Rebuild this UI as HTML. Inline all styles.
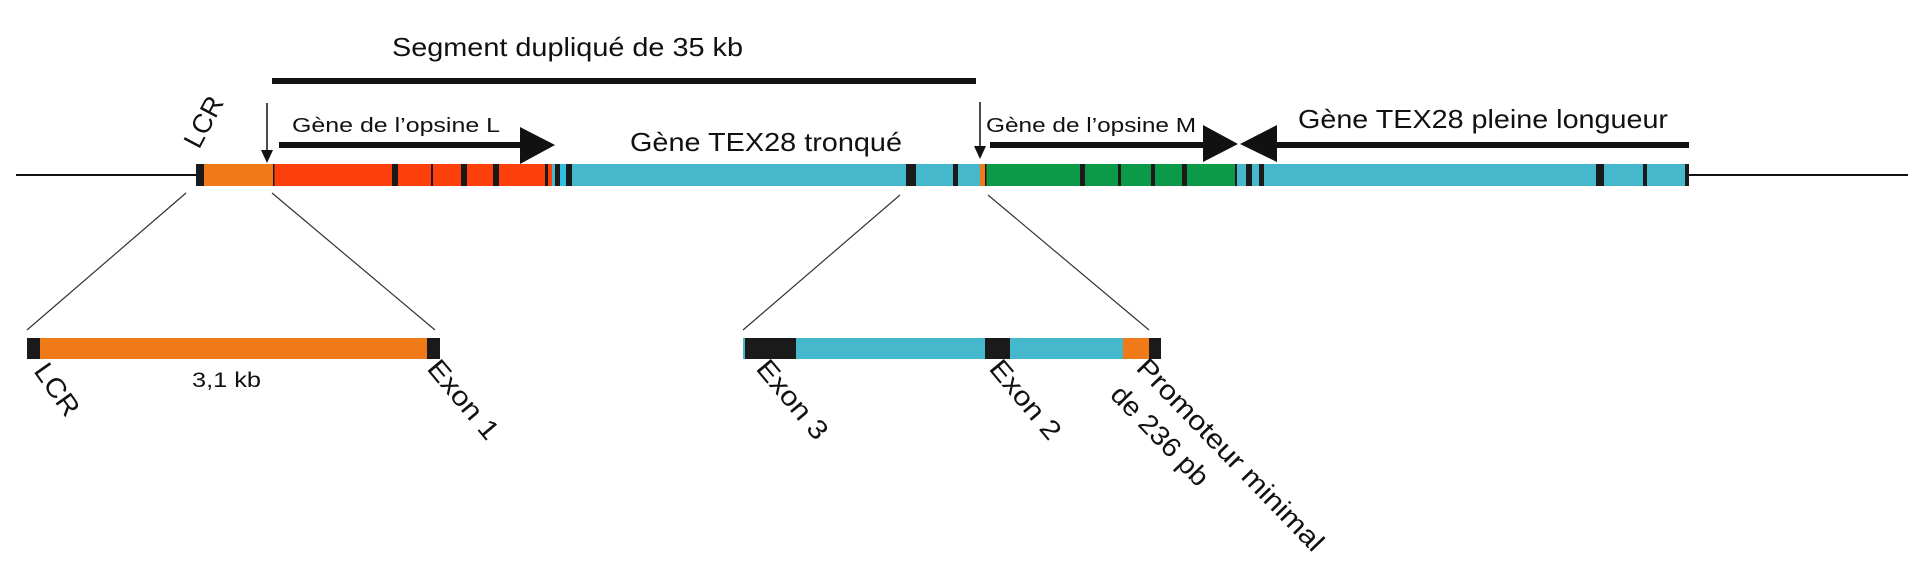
<!DOCTYPE html>
<html><head><meta charset="utf-8"><style>html,body{margin:0;padding:0;background:#fff}svg{display:block}</style></head>
<body>
<svg width="1916" height="578" viewBox="0 0 1916 578" xmlns="http://www.w3.org/2000/svg" font-family="Liberation Sans, Arial, sans-serif" fill="#111">
<!-- top title -->
<text x="392" y="56" font-size="26" textLength="351" lengthAdjust="spacingAndGlyphs">Segment dupliqué de 35 kb</text>
<rect x="272" y="78" width="704" height="6" fill="#111"/>
<!-- main line -->
<line x1="16" y1="175" x2="196" y2="175" stroke="#111" stroke-width="2"/>
<line x1="1689" y1="175" x2="1908" y2="175" stroke="#111" stroke-width="2"/>
<!-- main bar -->
<rect x="196" y="164" width="8" height="22" fill="#1a1a1a"/>
<rect x="204" y="164" width="69" height="22" fill="#f07a17"/>
<rect x="273" y="164" width="279" height="22" fill="#fd3f0c"/>
<rect x="273" y="164" width="1.5" height="22" fill="#1a1a1a"/>
<rect x="392" y="164" width="6" height="22" fill="#1a1a1a"/>
<rect x="431" y="164" width="2" height="22" fill="#1a1a1a"/>
<rect x="461" y="164" width="6" height="22" fill="#1a1a1a"/>
<rect x="493" y="164" width="6" height="22" fill="#1a1a1a"/>
<rect x="545" y="164" width="3" height="22" fill="#1a1a1a"/>
<rect x="552" y="164" width="3" height="22" fill="#45b8cc"/>
<rect x="555" y="164" width="5" height="22" fill="#1a1a1a"/>
<rect x="560" y="164" width="6" height="22" fill="#2fc0e0"/>
<rect x="566" y="164" width="6" height="22" fill="#1a1a1a"/>
<rect x="572" y="164" width="408" height="22" fill="#45b8cc"/>
<rect x="906" y="164" width="10" height="22" fill="#1a1a1a"/>
<rect x="953" y="164" width="5" height="22" fill="#1a1a1a"/>
<rect x="980" y="164" width="5" height="22" fill="#f07a17"/>
<rect x="985" y="164" width="251" height="22" fill="#0c9a48"/>
<rect x="985" y="164" width="1.5" height="22" fill="#1a1a1a"/>
<rect x="1080" y="164" width="5" height="22" fill="#1a1a1a"/>
<rect x="1118" y="164" width="3" height="22" fill="#1a1a1a"/>
<rect x="1151" y="164" width="4" height="22" fill="#1a1a1a"/>
<rect x="1182" y="164" width="5" height="22" fill="#1a1a1a"/>
<rect x="1235" y="164" width="2" height="22" fill="#1a1a1a"/>
<rect x="1237" y="164" width="9" height="22" fill="#45b8cc"/>
<rect x="1246" y="164" width="6" height="22" fill="#1a1a1a"/>
<rect x="1252" y="164" width="7" height="22" fill="#45b8cc"/>
<rect x="1259" y="164" width="5" height="22" fill="#1a1a1a"/>
<rect x="1264" y="164" width="422" height="22" fill="#45b8cc"/>
<rect x="1596" y="164" width="8" height="22" fill="#1a1a1a"/>
<rect x="1643" y="164" width="4" height="22" fill="#1a1a1a"/>
<rect x="1685" y="164" width="4" height="22" fill="#1a1a1a"/>
<!-- down arrows -->
<line x1="267" y1="103" x2="267" y2="152" stroke="#111" stroke-width="1.5"/>
<polygon points="261,150 273,150 267,163" fill="#111"/>
<line x1="980" y1="102" x2="980" y2="148" stroke="#111" stroke-width="1.5"/>
<polygon points="974,146 986,146 980,159" fill="#111"/>
<!-- gene arrows -->
<rect x="279" y="142" width="243" height="6" fill="#111"/>
<polygon points="520,127 555,145 520,164" fill="#111"/>
<rect x="990" y="142" width="215" height="6" fill="#111"/>
<polygon points="1203,125 1238,144 1203,162" fill="#111"/>
<polygon points="1240,144 1277,125 1277,162" fill="#111"/>
<rect x="1275" y="142" width="414" height="6" fill="#111"/>
<!-- labels -->
<text x="292" y="132" font-size="20" textLength="208" lengthAdjust="spacingAndGlyphs">Gène de l’opsine L</text>
<text x="630" y="151" font-size="26" textLength="272" lengthAdjust="spacingAndGlyphs">Gène TEX28 tronqué</text>
<text x="986" y="132" font-size="20" textLength="210" lengthAdjust="spacingAndGlyphs">Gène de l’opsine M</text>
<text x="1298" y="128" font-size="26" textLength="370" lengthAdjust="spacingAndGlyphs">Gène TEX28 pleine longueur</text>
<text transform="translate(199,150) rotate(-62)" font-size="27">LCR</text>
<!-- zoom lines -->
<line x1="186" y1="193" x2="27" y2="330" stroke="#333" stroke-width="1.2"/>
<line x1="272" y1="193" x2="435" y2="330" stroke="#333" stroke-width="1.2"/>
<line x1="900" y1="195" x2="743" y2="330" stroke="#333" stroke-width="1.2"/>
<line x1="988" y1="195" x2="1149" y2="330" stroke="#333" stroke-width="1.2"/>
<!-- bottom left bar -->
<rect x="27" y="338" width="413" height="21" fill="#f07a17"/>
<rect x="27" y="338" width="13" height="21" fill="#1a1a1a"/>
<rect x="427" y="338" width="13" height="21" fill="#1a1a1a"/>
<!-- bottom right bar -->
<rect x="743" y="338" width="418" height="21" fill="#45b8cc"/>
<rect x="745" y="338" width="51" height="21" fill="#1a1a1a"/>
<rect x="985" y="338" width="25" height="21" fill="#1a1a1a"/>
<rect x="1123" y="338" width="26" height="21" fill="#f07a17"/>
<rect x="1149" y="338" width="12" height="21" fill="#1a1a1a"/>
<!-- bottom labels -->
<text x="192" y="387" font-size="21" textLength="69" lengthAdjust="spacingAndGlyphs">3,1 kb</text>
<text transform="translate(33,371) rotate(55)" font-size="27" textLength="58" lengthAdjust="spacingAndGlyphs">LCR</text>
<text transform="translate(426,369) rotate(50)" font-size="27" textLength="95" lengthAdjust="spacingAndGlyphs">Exon 1</text>
<text transform="translate(755,369) rotate(50)" font-size="27" textLength="95" lengthAdjust="spacingAndGlyphs">Exon 3</text>
<text transform="translate(988,369) rotate(50)" font-size="27" textLength="95" lengthAdjust="spacingAndGlyphs">Exon 2</text>
<text transform="translate(1135,369) rotate(46)" font-size="27" textLength="256" lengthAdjust="spacingAndGlyphs">Promoteur minimal</text>
<text transform="translate(1109,396) rotate(46)" font-size="27" textLength="128" lengthAdjust="spacingAndGlyphs">de 236 pb</text>
</svg>
</body></html>
